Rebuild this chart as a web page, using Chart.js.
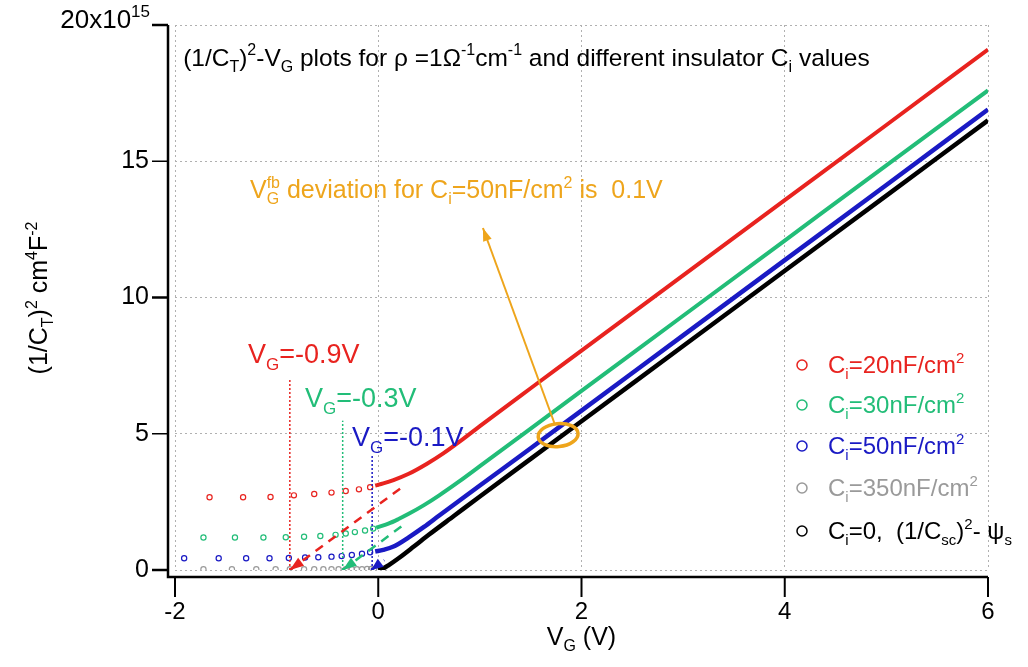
<!DOCTYPE html>
<html lang="en">
<head>
<meta charset="UTF-8">
<title>(1/CT)^2 - VG plots</title>
<script src="https://cdn.jsdelivr.net/npm/chart.js"></script>
<style>
  body { margin: 0; background: #fff; }
  #wrap { width: 1028px; height: 667px; }
</style>
</head>
<body>
<div id="wrap"><canvas id="cvChart" width="1028" height="667"></canvas></div>
<script>
// values in units of 1e15 cm^4 F^-2, x is V_G in volts
const redDotsV = [-1.66, -1.33, -1.06, -0.83, -0.63, -0.46, -0.32, -0.19, -0.08];
const redDotsY = [2.67, 2.67, 2.68, 2.74, 2.79, 2.84, 2.90, 2.96, 3.04];
const redLineV = [-0.03, 0.05, 0.15, 0.3, 0.48, 0.64, 0.81, 1.0, 1.5, 2.0, 3.0, 4.0, 5.0, 6.0];
const redLineY = [3.10, 3.18, 3.30, 3.53, 3.90, 4.28, 4.74, 5.28, 6.67, 8.05, 10.81, 13.57, 16.33, 19.1];

const greenDotsV = [-1.72, -1.41, -1.13, -0.91, -0.73, -0.57, -0.42, -0.32, -0.23, -0.13, -0.05];
const greenDotsY = [1.19, 1.19, 1.19, 1.20, 1.22, 1.25, 1.29, 1.34, 1.39, 1.45, 1.52];
const greenLineV = [-0.02, 0.1, 0.2, 0.3, 0.45, 0.6, 0.8, 1.0, 1.5, 2.0, 3.0, 4.0, 5.0, 6.0];
const greenLineY = [1.55, 1.70, 1.87, 2.06, 2.38, 2.74, 3.26, 3.81, 5.19, 6.57, 9.33, 12.09, 14.85, 17.6];

const blueDotsV = [-1.91, -1.57, -1.30, -1.07, -0.88, -0.72, -0.59, -0.46, -0.36, -0.26, -0.16, -0.08];
const blueDotsY = [0.43, 0.43, 0.43, 0.43, 0.44, 0.46, 0.47, 0.49, 0.51, 0.55, 0.60, 0.65];
const blueLineV = [-0.03, 0.05, 0.15, 0.3, 0.45, 0.6, 0.8, 1.0, 1.5, 2.0, 3.0, 4.0, 5.0, 6.0];
const blueLineY = [0.68, 0.74, 0.86, 1.20, 1.58, 2.00, 2.55, 3.10, 4.47, 5.85, 8.61, 11.37, 14.13, 16.9];

const greyDotsV = [-1.72, -1.44, -1.20, -1.01, -0.87, -0.73, -0.63, -0.54, -0.46, -0.39, -0.32, -0.26, -0.21, -0.16, -0.11, -0.07, -0.04];
const greyDotsY = [0.03, 0.03, 0.03, 0.03, 0.03, 0.03, 0.03, 0.03, 0.03, 0.03, 0.03, 0.03, 0.03, 0.03, 0.04, 0.04, 0.04];

const blackLineV = [0, 0.05, 0.1, 0.2, 0.35, 0.5, 0.75, 1.0, 1.5, 2.0, 3.0, 4.0, 5.0, 6.0];
const blackLineY = [0, 0.06, 0.17, 0.43, 0.86, 1.30, 2.00, 2.70, 4.08, 5.46, 8.22, 10.98, 13.74, 16.5];

// linear extrapolations down to the flat-band voltage
const redDashV = [-0.87, 0.22];
const redDashY = [0, 3.0];
const greenDashV = [-0.35, 0.25];
const greenDashY = [0, 1.66];
const blueDashV = [-0.07, 0.06];
const blueDashY = [0, 0.36];

// vertical markers at V_G = -0.9, -0.3, -0.1
const markV = [-0.87, -0.35, -0.06];
const markTop = [6.97, 5.48, 4.26];

const xTicks = [-2, 0, 2, 4, 6];
const yTicks = [0, 5, 10, 15, 20];

const FONT = '"Liberation Sans", Arial, sans-serif';
const RED = '#e8231f', GREEN = '#22bd78', BLUE = '#1a1ac4', GREY = '#9a9a9a', ORANGE = '#eea51c';

function pts(xs, ys) { return xs.map((x, i) => ({ x: x, y: ys[i] })); }

function dots(xs, ys, color) {
  return {
    data: pts(xs, ys), showLine: false, borderColor: color,
    pointRadius: 2.6, pointBorderWidth: 1.2, pointBorderColor: color,
    pointBackgroundColor: 'rgba(0,0,0,0)'
  };
}
function curve(xs, ys, color, w) {
  return {
    data: pts(xs, ys), showLine: true, borderColor: color, borderWidth: w,
    pointRadius: 0, cubicInterpolationMode: 'monotone'
  };
}
function dashed(xs, ys, color) {
  return { data: pts(xs, ys), showLine: true, borderColor: color, borderWidth: 2.5, borderDash: [9, 7], pointRadius: 0 };
}
function marker(i, color) {
  return { data: pts([markV[i], markV[i]], [0, markTop[i]]), showLine: true, borderColor: color, borderWidth: 1.5, borderDash: [2, 2], pointRadius: 0 };
}

// draw text made of pieces: 'plain', ['t','sub'], ['t','sup'], {sup:'a', sub:'b'}
function rich(ctx, parts, x, y, size, color, align) {
  const small = Math.round(size * 0.64);
  const big = size + 'px ' + FONT, little = small + 'px ' + FONT;
  const items = parts.map(p => {
    if (typeof p === 'string') { ctx.font = big; return { t: p, w: ctx.measureText(p).width, k: 'n' }; }
    if (Array.isArray(p)) { ctx.font = little; return { t: p[0], w: ctx.measureText(p[0]).width, k: p[1] }; }
    ctx.font = little;
    const w = Math.max(ctx.measureText(p.sup).width, ctx.measureText(p.sub).width);
    return { sup: p.sup, sub: p.sub, w: w, k: 'both' };
  });
  const total = items.reduce((s, it) => s + it.w, 0);
  let cx = align === 'right' ? x - total : align === 'center' ? x - total / 2 : x;
  ctx.fillStyle = color;
  ctx.textAlign = 'left';
  ctx.textBaseline = 'alphabetic';
  items.forEach(it => {
    if (it.k === 'n') { ctx.font = big; ctx.fillText(it.t, cx, y); }
    else {
      ctx.font = little;
      if (it.k === 'sub') ctx.fillText(it.t, cx, y + size * 0.25);
      if (it.k === 'sup') ctx.fillText(it.t, cx, y - size * 0.42);
      if (it.k === 'both') { ctx.fillText(it.sup, cx, y - size * 0.42); ctx.fillText(it.sub, cx, y + size * 0.25); }
    }
    cx += it.w;
  });
}

function arrowHead(ctx, fromX, fromY, tipX, tipY, len, half, color) {
  const a = Math.atan2(tipY - fromY, tipX - fromX);
  ctx.fillStyle = color;
  ctx.beginPath();
  ctx.moveTo(tipX, tipY);
  ctx.lineTo(tipX - len * Math.cos(a) + half * Math.sin(a), tipY - len * Math.sin(a) - half * Math.cos(a));
  ctx.lineTo(tipX - len * Math.cos(a) - half * Math.sin(a), tipY - len * Math.sin(a) + half * Math.cos(a));
  ctx.closePath();
  ctx.fill();
}

const decor = {
  id: 'decor',
  afterDraw(chart) {
    const ctx = chart.ctx;
    const xs = chart.scales.x, ys = chart.scales.y;
    const px = v => xs.getPixelForValue(v), py = v => ys.getPixelForValue(v);
    const axX = chart.chartArea.left - 7, axY = chart.chartArea.bottom + 7;
    ctx.save();

    // offset axes with ticks
    ctx.strokeStyle = '#000';
    ctx.lineWidth = 2.5;
    ctx.beginPath();
    ctx.moveTo(axX, py(20)); ctx.lineTo(axX, axY); ctx.lineTo(px(6), axY);
    ctx.stroke();
    yTicks.forEach(t => {
      ctx.lineWidth = t % 10 === 0 ? 2.5 : 1.5;
      ctx.beginPath(); ctx.moveTo(axX - 16, py(t)); ctx.lineTo(axX, py(t)); ctx.stroke();
    });
    xTicks.forEach(t => {
      ctx.lineWidth = 2;
      ctx.beginPath(); ctx.moveTo(px(t), axY); ctx.lineTo(px(t), axY + 20); ctx.stroke();
    });
    rich(ctx, ['20x10', ['15', 'sup']], 150, py(20) + 3, 26, '#000', 'right');

    // axis titles
    rich(ctx, ['V', ['G', 'sub'], ' (V)'], px(2), 645, 25, '#000', 'center');
    ctx.save();
    ctx.translate(47, 298);
    ctx.rotate(-Math.PI / 2);
    rich(ctx, ['(1/C', ['T', 'sub'], ')', ['2', 'sup'], ' cm', ['4', 'sup'], 'F', ['-2', 'sup']], 0, 0, 25, '#000', 'center');
    ctx.restore();

    // title inside the plot
    rich(ctx, ['(1/C', ['T', 'sub'], ')', ['2', 'sup'], '-V', ['G', 'sub'], ' plots for \u03c1 =1\u03a9', ['-1', 'sup'], 'cm', ['-1', 'sup'],
      ' and different insulator C', ['i', 'sub'], ' values'], px(-1.92), py(18.8) + 8, 24.5, '#000', 'left');

    // V_G markers labels
    rich(ctx, ['V', ['G', 'sub'], '=-0.9V'], 248, 363, 27, RED, 'left');
    rich(ctx, ['V', ['G', 'sub'], '=-0.3V'], 305, 407, 27, GREEN, 'left');
    rich(ctx, ['V', ['G', 'sub'], '=-0.1V'], 352, 446, 27, BLUE, 'left');

    // arrowheads at the ends of the extrapolations
    arrowHead(ctx, px(redDashV[1]), py(redDashY[1]), px(redDashV[0]), py(redDashY[0]), 14, 5, RED);
    arrowHead(ctx, px(greenDashV[1]), py(greenDashY[1]), px(greenDashV[0]), py(greenDashY[0]), 14, 5, GREEN);
    arrowHead(ctx, px(blueDashV[1]), py(blueDashY[1]), px(blueDashV[0]), py(blueDashY[0]), 12, 5, BLUE);

    // flat band deviation note
    ctx.strokeStyle = ORANGE;
    ctx.lineWidth = 3.5;
    ctx.beginPath();
    ctx.ellipse(px(1.77), py(4.95), 20, 11.5, -0.1, 0, Math.PI * 2);
    ctx.stroke();
    ctx.lineWidth = 2;
    ctx.beginPath();
    ctx.moveTo(px(1.74), py(5.32)); ctx.lineTo(px(1.03), py(12.55));
    ctx.stroke();
    arrowHead(ctx, px(1.74), py(5.32), px(1.03), py(12.55), 13, 4.5, ORANGE);
    rich(ctx, ['V', { sup: 'fb', sub: 'G' }, ' deviation for C', ['i', 'sub'], '=50nF/cm', ['2', 'sup'], ' is  0.1V'], 250, 198, 25, ORANGE, 'left');

    // legend
    const rows = [
      { y: 365, c: RED, t: ['C', ['i', 'sub'], '=20nF/cm', ['2', 'sup']] },
      { y: 405, c: GREEN, t: ['C', ['i', 'sub'], '=30nF/cm', ['2', 'sup']] },
      { y: 446, c: BLUE, t: ['C', ['i', 'sub'], '=50nF/cm', ['2', 'sup']] },
      { y: 488, c: GREY, t: ['C', ['i', 'sub'], '=350nF/cm', ['2', 'sup']] },
      { y: 531, c: '#000', t: ['C', ['i', 'sub'], '=0,  (1/C', ['sc', 'sub'], ')', ['2', 'sup'], '- \u03c8', ['s', 'sub']] }
    ];
    rows.forEach(r => {
      ctx.strokeStyle = r.c;
      ctx.lineWidth = 1.5;
      ctx.beginPath(); ctx.arc(802, r.y, 5, 0, Math.PI * 2); ctx.stroke();
      rich(ctx, r.t, 828, r.y + 8, 24, r.c, 'left');
    });
    ctx.restore();
  }
};

new Chart(document.getElementById('cvChart'), {
  type: 'scatter',
  data: {
    datasets: [
      dashed(redDashV, redDashY, RED),
      dashed(greenDashV, greenDashY, GREEN),
      dashed(blueDashV, blueDashY, BLUE),
      marker(0, RED), marker(1, GREEN), marker(2, BLUE),
      curve(blackLineV, blackLineY, '#000', 4.5),
      curve(blueLineV, blueLineY, BLUE, 4.5),
      curve(greenLineV, greenLineY, GREEN, 4),
      curve(redLineV, redLineY, RED, 4),
      dots(redDotsV, redDotsY, RED),
      dots(greenDotsV, greenDotsY, GREEN),
      dots(blueDotsV, blueDotsY, BLUE),
      dots(greyDotsV, greyDotsY, GREY)
    ]
  },
  options: {
    responsive: false,
    animation: false,
    layout: { padding: { top: 25, right: 40, left: 0, bottom: 0 } },
    plugins: { legend: { display: false }, tooltip: { enabled: false } },
    scales: {
      x: {
        type: 'linear', min: -2, max: 6,
        afterFit: s => { s.height = 97; s.paddingLeft = 0; s.paddingRight = 0; },
        afterBuildTicks: s => { s.ticks = xTicks.map(v => ({ value: v })); },
        grid: { color: '#b0b0b0', lineWidth: 1, drawTicks: false },
        border: { display: false, dash: [2, 3] },
        ticks: { padding: 28, color: '#000', font: { family: FONT, size: 24 } }
      },
      y: {
        type: 'linear', min: 0, max: 20,
        afterFit: s => { s.width = 175; s.paddingTop = 0; s.paddingBottom = 0; },
        afterBuildTicks: s => { s.ticks = yTicks.map(v => ({ value: v })); },
        grid: { color: '#b0b0b0', lineWidth: 1, drawTicks: false },
        border: { display: false, dash: [2, 3] },
        ticks: { padding: 26, color: '#000', font: { family: FONT, size: 25 },
          callback: v => (v === 20 ? '' : v) }
      }
    }
  },
  plugins: [decor]
});
</script>
</body>
</html>
